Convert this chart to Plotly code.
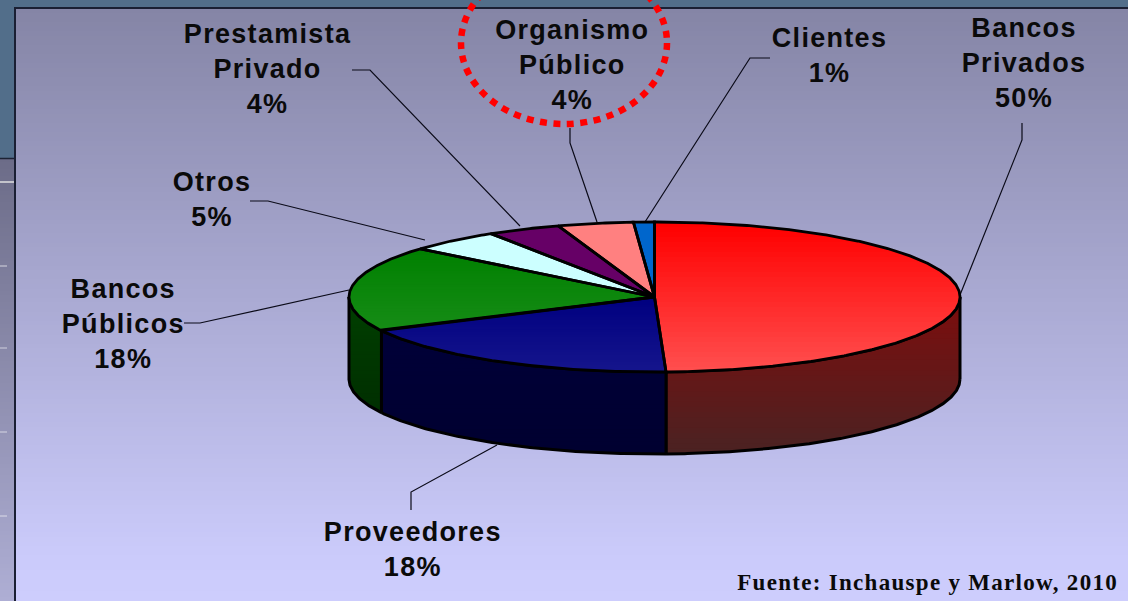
import numpy as np
import plotly.graph_objects as go

# ---- data ----
categories = ["Bancos Privados", "Proveedores", "Bancos Públicos", "Otros",
              "Prestamista Privado", "Organismo Público", "Clientes"]
values = [49.4, 18.2, 18.5, 4.9, 3.9, 4.0, 1.1]
labels = ["Bancos<br>Privados<br>50%", "Proveedores<br>18%", "Bancos<br>Públicos<br>18%",
          "Otros<br>5%", "Prestamista<br>Privado<br>4%", "Organismo<br>Público<br>4%",
          "Clientes<br>1%"]
source = "Fuente: Inchauspe y Marlow, 2010"

# ---- style / layout ----
label_pos = [(1024, 63), (413, 549), (123, 324), (212, 199), (268, 69), (572, 65), (829, 55)]
leaders = [
    [(1022, 123), (1022, 140), (960, 295)],
    [(411, 510), (411, 492), (497, 445)],
    [(184, 323), (200, 323), (349, 290)],
    [(250, 201), (268, 201), (425, 240)],
    [(352, 70), (370, 70), (520, 226)],
    [(570, 128), (570, 143), (597, 222)],
    [(770, 58), (750, 58), (645, 222)],
]
top_colors = [("#ff0000", "#ff4e4e"), ("#000080", "#15158c"), ("#008000", "#168c16"),
              ("#ccffff", "#ccffff"), ("#660066", "#660066"), ("#ff8080", "#ff8080"),
              ("#0066cc", "#0066cc")]
side_colors = [("#7d0d0d", "#4b2222"), ("#000038", "#000030"), ("#003f00", "#002f00")]
CX, CY, RX, RY, DEPTH = 654.5, 297.0, 305.5, 75.0, 82.0
W, H = 1128, 601


def hexrgb(c):
    return np.array([int(c[i:i + 2], 16) for i in (1, 3, 5)], float)


def mix(a, b, f):
    r = hexrgb(a) * (1 - f) + hexrgb(b) * f
    return "rgb(%d,%d,%d)" % tuple(r.round())


def clip_below(poly, y0):
    out = []
    n = len(poly)
    for i in range(n):
        p, q = poly[i], poly[(i + 1) % n]
        pin, qin = p[1] >= y0, q[1] >= y0
        if pin:
            out.append(p)
        if pin != qin:
            f = (y0 - p[1]) / (q[1] - p[1])
            out.append((p[0] + f * (q[0] - p[0]), y0))
    return out


fig = go.Figure()


def add_poly(pts, color, close=True):
    xs = [p[0] for p in pts]
    ys = [p[1] for p in pts]
    if close:
        xs.append(xs[0])
        ys.append(ys[0])
    fig.add_trace(go.Scatter(x=xs, y=ys, mode="lines", fill="toself", fillcolor=color,
                             line=dict(width=0), hoverinfo="skip", showlegend=False))


def add_line(pts, color="#000000", width=2.5):
    fig.add_trace(go.Scatter(x=[p[0] for p in pts], y=[p[1] for p in pts], mode="lines",
                             line=dict(color=color, width=width), hoverinfo="skip",
                             showlegend=False))


def add_gradient(pts, c0, c1, n=30):
    ys = [p[1] for p in pts]
    y0, y1 = min(ys), max(ys)
    if c0 == c1:
        add_poly(pts, c0)
        return
    for i in range(n):
        yb = y0 + (y1 - y0) * i / n
        part = clip_below(pts, yb)
        if len(part) > 2:
            add_poly(part, mix(c0, c1, i / (n - 1)))


def rim(t0, t1, dy=0.0, n=None):
    n = n or max(3, int(abs(t1 - t0) * 2))
    t = np.radians(np.linspace(t0, t1, n))
    return list(zip(CX + RX * np.sin(t), CY - RY * np.cos(t) + dy))


def band_heatmap(x0, x1, y0, y1, c0, c1, n=120):
    edges = np.linspace(y0, y1, n + 1)
    fig.add_trace(go.Heatmap(x=[x0, x1], y=edges, z=[[i] for i in range(n)],
                             colorscale=[[0, c0], [1, c1]], showscale=False,
                             hoverinfo="skip"))


# ---- background ----
band_heatmap(0, 15, 158, H, "#6c6c88", "#aeaed4")
band_heatmap(15, W, 8, 560, "#8585a6", "#cbcbfb")
band_heatmap(15, W, 560, H, "#cbcbfb", "#cdcdfd", n=4)
for yy, xe, col in [(182, 14, "#e0e0e0"), (266, 7, "#b8b8c8"), (348, 7, "#b8b8cc"),
                    (432, 7, "#c0c0d4"), (516, 7, "#c8c8dc")]:
    add_line([(0, yy), (xe, yy)], col, 1.5)
add_line([(0, 158.5), (15, 158.5)], "#1c2233", 1.5)
add_line([(15, H), (15, 8), (W, 8)], "#1a1f33", 2)

# ---- leader lines ----
for pts in leaders:
    add_line(pts, "#0a0a18", 1.2)

# ---- pie geometry from the values ----
cum = np.concatenate([[0], np.cumsum(values)])
angles = cum / cum[-1] * 360.0

# side walls (only the front half, t = 90..270)
for i in range(3):
    t0, t1 = max(angles[i], 90.0), min(angles[i + 1], 270.0)
    front = rim(t0, t1, DEPTH)
    back = rim(t1, t0, 0.0)
    add_gradient(front + back, *side_colors[i])
    add_line(back[::-1], "#000000", 3)
    add_line([back[-1], front[0]], "#000000", 3)
    add_line([front[-1], back[0]], "#000000", 3)
    add_line(front, "#000000", 3)

# top slices
for i in range(len(values)):
    edge = rim(angles[i], angles[i + 1])
    poly = [(CX, CY)] + edge
    add_gradient(poly, *top_colors[i])
for i in range(len(values)):
    edge = rim(angles[i], angles[i + 1])
    add_line([(CX, CY)] + edge + [(CX, CY)], "#000000", 2.8)

# ---- text ----
annots = [dict(x=x, y=y, text="<b>%s</b>" % t, showarrow=False, xanchor="center",
               yanchor="middle", align="center",
               font=dict(family="Liberation Sans", size=27, color="#0a0a0a"))
          for (x, y), t in zip(label_pos, labels)]
annots.append(dict(x=927, y=582, text="<b>%s</b>" % source, showarrow=False, xanchor="center",
                   yanchor="middle", font=dict(family="Liberation Serif", size=23, color="#0a0a0a")))

fig.update_layout(
    width=W, height=H, autosize=False, margin=dict(l=0, r=0, t=0, b=0),
    paper_bgcolor="#526e8a", plot_bgcolor="rgba(0,0,0,0)", showlegend=False,
    xaxis=dict(range=[0, W], visible=False, fixedrange=True),
    yaxis=dict(range=[H, 0], visible=False, fixedrange=True),
    annotations=annots,
    shapes=[dict(type="circle", xref="x", yref="y", x0=461, x1=667, y0=-38, y1=124,
                 line=dict(color="#ff0000", width=6.5, dash="7px,6.5px"), layer="above")],
)

fig.write_html(
    "out.html", config=dict(displayModeBar=False),
    post_script="""
document.querySelectorAll('.annotation-text').forEach(function(t){
  t.style.letterSpacing = '1.3px';
});
document.body.style.margin='0';
""")
